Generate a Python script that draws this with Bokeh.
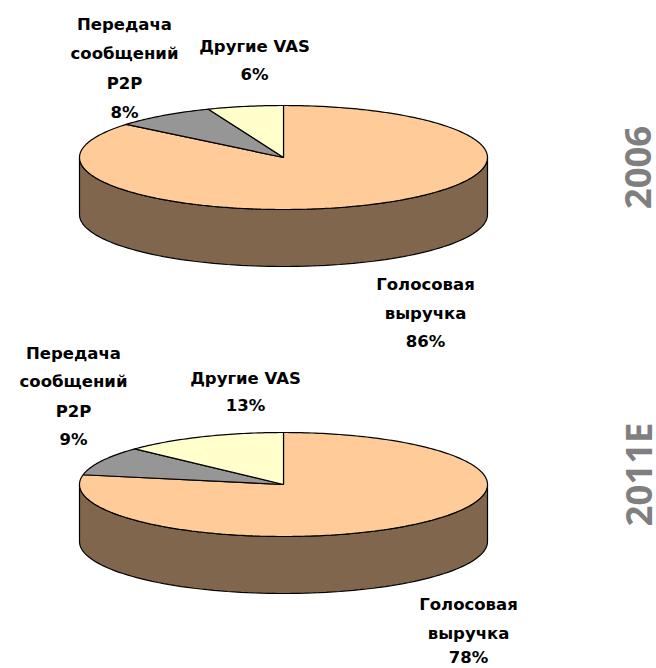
import math
from bokeh.plotting import figure
from bokeh.models import Range1d
from bokeh.core.properties import value
from bokeh.embed import file_html
from bokeh.resources import INLINE

categories = ["Голосовая выручка", "Передача сообщений P2P", "Другие VAS"]
shares_2006 = [86, 8, 6]
shares_2011 = [78, 9, 13]
years = ["2006", "2011E"]
colors = ["#FFCC99", "#969696", "#FFFFCC"]
side_color = "#7F664C"

p = figure(width=656, height=668, output_backend="svg", toolbar_location=None,
           x_range=Range1d(0, 656), y_range=Range1d(668, 0), min_border=0)
p.axis.visible = False
p.grid.visible = False
p.outline_line_color = None

RX, RY, DEPTH = 204, 52, 57
N = 90

def ell(cx, cy, deg):
    a = math.radians(deg)
    return cx + RX * math.sin(a), cy - RY * math.cos(a)

def pie(cx, cy, shares):
    top = [ell(cx, cy, 90 + 180 * i / N) for i in range(N + 1)]
    xs = [q[0] for q in top] + [q[0] for q in reversed(top)]
    ys = [q[1] for q in top] + [q[1] + DEPTH for q in reversed(top)]
    p.patch(xs, ys, fill_color=side_color, line_color="#000000", line_width=1.2)
    start = 0.0
    for s, c in zip(shares, colors):
        sweep = 360 * s / sum(shares)
        n = max(4, int(sweep))
        arc = [ell(cx, cy, start + sweep * i / n) for i in range(n + 1)]
        p.patch([cx] + [q[0] for q in arc], [cy] + [q[1] for q in arc],
                fill_color=c, line_color="#000000", line_width=1.2)
        start += sweep

pie(283, 157, shares_2006)
pie(283, 484, shares_2011)

labels = [
    (124, 24, "Передача"), (124, 53, "сообщений"), (124, 83, "P2P"), (124, 112, "8%"),
    (254, 46, "Другие VAS"), (254, 74, "6%"),
    (425, 284, "Голосовая"), (425, 313, "выручка"), (425, 341, "86%"),
    (73, 353, "Передача"), (73, 381, "сообщений"), (73, 411, "P2P"), (73, 439, "9%"),
    (245, 378, "Другие VAS"), (245, 405, "13%"),
    (468, 604, "Голосовая"), (468, 633, "выручка"), (468, 657, "78%"),
]
for x, y, t in labels:
    p.text([x], [y], text=[t], text_font=value("DejaVu Sans"), text_font_style="bold",
           text_font_size="16.5px", text_color="#000000", text_align="center",
           text_baseline="middle")

for y, t in zip([167, 474], years):
    p.text([637], [y], text=[t], text_font=value("Open Sans"), text_font_style="bold",
           text_font_size="36.5px", text_color="#7F7F7F", text_align="center",
           text_baseline="middle", angle=math.pi / 2)

open("out.html", "w").write(file_html(p, INLINE))
